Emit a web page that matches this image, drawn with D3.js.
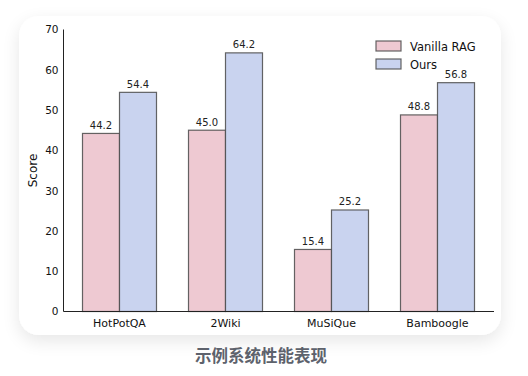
<!DOCTYPE html>
<html><head><meta charset="utf-8">
<script src="https://cdn.jsdelivr.net/npm/d3@7"></script>
<style>
html,body{margin:0;padding:0;background:#ffffff;}
svg{display:block;}
</style></head>
<body>
<script>
const categories = ["HotPotQA", "2Wiki", "MuSiQue", "Bamboogle"];
const seriesNames = ["Vanilla RAG", "Ours"];
const vanillaRAG = [44.2, 45.0, 15.4, 48.8];
const ours = [54.4, 64.2, 25.2, 56.8];
const yTicks = [0, 10, 20, 30, 40, 50, 60, 70];
const title = "示例系统性能表现";
const yLabel = "Score";

const W = 528, H = 376;
const svg = d3.select("body").append("svg").attr("width", W).attr("height", H);
const defs = svg.append("defs");
const f = defs.append("filter").attr("id", "sh").attr("x", "-20%").attr("y", "-20%").attr("width", "140%").attr("height", "150%");
f.append("feGaussianBlur").attr("in", "SourceAlpha").attr("stdDeviation", 9);
f.append("feOffset").attr("dx", 0).attr("dy", 6).attr("result", "b");
f.append("feComponentTransfer").append("feFuncA").attr("type", "linear").attr("slope", 0.10);
const fm = f.append("feMerge");
fm.append("feMergeNode");
fm.append("feMergeNode").attr("in", "SourceGraphic");

svg.append("rect").attr("x", 19).attr("y", 16).attr("width", 482).attr("height", 319)
  .attr("rx", 20).attr("fill", "#fff").attr("filter", "url(#sh)");

const axL = 63.5, axR = 494, y0 = 311.5, yTop = 29.5;
const y = d3.scaleLinear().domain([0, 70]).range([y0, yTop]);
const xc = d3.scaleLinear().domain([0, categories.length - 1]).range([119.5, 437.5]);
const bw = 37;
const colors = ["#eec9d2", "#c9d3ef"];
const data = [vanillaRAG, ours];

const g = svg.append("g");
data.forEach((vals, s) => {
  g.selectAll(null).data(vals).enter().append("rect")
    .attr("x", (d, i) => xc(i) + (s - 1) * bw)
    .attr("y", d => y(d))
    .attr("width", bw)
    .attr("height", d => y0 - y(d))
    .attr("fill", colors[s])
    .attr("stroke", "#4a4a4a").attr("stroke-opacity", 0.85).attr("stroke-width", 1.2);
  g.selectAll(null).data(vals).enter().append("text")
    .attr("x", (d, i) => xc(i) + (s - 0.5) * bw)
    .attr("y", d => y(d) - 4.5)
    .attr("text-anchor", "middle")
    .attr("font-family", "DejaVu Sans").attr("font-size", 10).attr("fill", "#222")
    .text(d => d.toFixed(1));
});

// axes
const yAxis = d3.axisLeft(y).tickValues(yTicks).tickSize(0).tickPadding(5);
const ya = svg.append("g").attr("transform", `translate(${axL},0)`).call(yAxis);
ya.select(".domain").remove();
ya.selectAll("line").remove();
ya.selectAll("text").attr("font-family", "DejaVu Sans").attr("font-size", 10.5).attr("fill", "#111");
svg.append("line").attr("x1", axL).attr("x2", axL).attr("y1", yTop).attr("y2", y0).attr("stroke", "#222").attr("stroke-width", 1);
svg.append("line").attr("x1", axL).attr("x2", axR).attr("y1", y0).attr("y2", y0).attr("stroke", "#222").attr("stroke-width", 1);

svg.selectAll(null).data(categories).enter().append("text")
  .attr("x", (d, i) => xc(i)).attr("y", y0 + 15.5)
  .attr("text-anchor", "middle").attr("font-family", "DejaVu Sans").attr("font-size", 11).attr("fill", "#111")
  .text(d => d);

svg.append("text").attr("transform", `translate(37,${(y0 + yTop) / 2}) rotate(-90)`)
  .attr("text-anchor", "middle").attr("font-family", "DejaVu Sans").attr("font-size", 12).attr("fill", "#111")
  .text(yLabel);

// legend
const lg = svg.append("g");
seriesNames.forEach((n, i) => {
  lg.append("rect").attr("x", 376).attr("y", 41 + i * 18).attr("width", 25).attr("height", 10)
    .attr("fill", colors[i]).attr("stroke", "#4a4a4a").attr("stroke-opacity", 0.85).attr("stroke-width", 1.2);
  lg.append("text").attr("x", 410).attr("y", 50.5 + i * 18)
    .attr("font-family", "DejaVu Sans").attr("font-size", 11.5).attr("fill", "#111").text(n);
});

svg.append("text").attr("x", 261).attr("y", 362).attr("text-anchor", "middle")
  .attr("font-family", "Noto Sans CJK SC").attr("font-weight", 700).attr("font-size", 16.5).attr("fill", "#5d626c")
  .text(title);
</script>
</body></html>
